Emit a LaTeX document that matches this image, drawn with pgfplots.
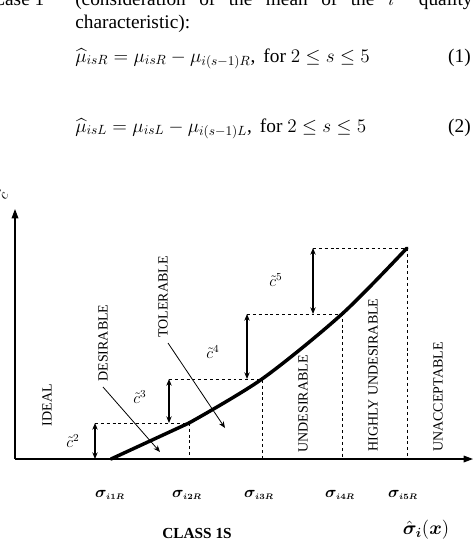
\documentclass[border=0pt]{standalone}
\usepackage{amsmath,bm}
\usepackage{fontspec}
\setmainfont{Liberation Serif}
\usepackage{pgfplots}
\pgfplotsset{compat=1.18}
\usetikzlibrary{arrows.meta}

\begin{document}
\begin{tikzpicture}
\begin{scope}
\clip (0,0) rectangle (354.75pt,-405.75pt);
\begin{axis}[at={(0,0)}, anchor=north west, scale only axis,
  width=354.75pt, height=405.75pt,
  xmin=0, xmax=473, ymin=0, ymax=541, y dir=reverse,
  hide axis, clip=false]
% ---- text above the chart
\node[anchor=base west, inner sep=0pt, font=\fontsize{14.5}{17}\selectfont] at (axis cs:-8,5) {Case 1};
\node[anchor=base west, inner sep=0pt, font=\fontsize{14.5}{17}\selectfont] at (axis cs:75,5)
  {\makebox[298pt][s]{(consideration\hfill of\hfill the\hfill mean\hfill of\hfill the\hfill $i^{\mathrm{th}}$\hfill quality}};
\node[anchor=base west, inner sep=0pt, font=\fontsize{14.5}{17}\selectfont] at (axis cs:75,28) {characteristic):};
\node[anchor=base west, inner sep=0pt, font=\fontsize{14.5}{17}\selectfont] at (axis cs:75,62)
  {$\widehat{\mu}_{isR}=\mu_{isR}-\mu_{i(s-1)R}$,\, for $2\le s\le 5$};
\node[anchor=base east, inner sep=0pt, font=\fontsize{14.5}{17}\selectfont] at (axis cs:471,62) {(1)};
\node[anchor=base west, inner sep=0pt, font=\fontsize{14.5}{17}\selectfont] at (axis cs:75,132)
  {$\widehat{\mu}_{isL}=\mu_{isL}-\mu_{i(s-1)L}$,\, for $2\le s\le 5$};
\node[anchor=base east, inner sep=0pt, font=\fontsize{14.5}{17}\selectfont] at (axis cs:471,132) {(2)};

% ---- axes with arrows
\draw[line width=0.9pt, -{Triangle[length=7pt,width=5pt]}] (axis cs:15,459) -- (axis cs:15,209);
\draw[line width=0.9pt, -{Triangle[length=7pt,width=5pt]}] (axis cs:15,459) -- (axis cs:473,459);
\node[rotate=60, font=\fontsize{11}{12}\selectfont] at (axis cs:3,195) {$\tilde{c}$};

% ---- dashed guides
\draw[line width=0.7pt, dash pattern=on 2.2pt off 2.2pt]
  (axis cs:95,423) -- (axis cs:189,423) -- (axis cs:189,459)
  (axis cs:169,379) -- (axis cs:262,379) -- (axis cs:262,459)
  (axis cs:247,314) -- (axis cs:342,314) -- (axis cs:342,459)
  (axis cs:313,248) -- (axis cs:407,248) -- (axis cs:407,459);

% ---- double arrows
\draw[line width=0.8pt, {Stealth[length=5pt,width=4pt]}-{Stealth[length=5pt,width=4pt]}] (axis cs:95,423) -- (axis cs:95,459);
\draw[line width=0.8pt, {Stealth[length=5pt,width=4pt]}-{Stealth[length=5pt,width=4pt]}] (axis cs:169,379) -- (axis cs:169,423);
\draw[line width=0.8pt, {Stealth[length=5pt,width=4pt]}-{Stealth[length=5pt,width=4pt]}] (axis cs:247,314) -- (axis cs:247,379);
\draw[line width=0.8pt, {Stealth[length=5pt,width=4pt]}-{Stealth[length=5pt,width=4pt]}] (axis cs:313,248) -- (axis cs:313,314);

% ---- the curve
\addplot[black, line width=2.6pt, line cap=round] coordinates {(111,459) (189,423)};
\addplot[black, line width=2.6pt, line cap=round, smooth] coordinates {(189,423) (262,379) (342,314) (407,248)};

% ---- c tilde labels
\node[font=\fontsize{12}{13}\selectfont] at (axis cs:73,441) {$\tilde{c}^{2}$};
\node[font=\fontsize{12}{13}\selectfont] at (axis cs:140,397) {$\tilde{c}^{3}$};
\node[font=\fontsize{12}{13}\selectfont] at (axis cs:213,352) {$\tilde{c}^{4}$};
\node[font=\fontsize{12}{13}\selectfont] at (axis cs:276,280) {$\tilde{c}^{5}$};

% ---- region labels
\node[rotate=90, font=\fontsize{10.5}{12}\selectfont] at (axis cs:47,405) {IDEAL};
\node[rotate=90, font=\fontsize{10.5}{12}\selectfont] at (axis cs:103,343) {DESIRABLE};
\node[rotate=90, font=\fontsize{10.5}{12}\selectfont] at (axis cs:163,297) {TOLERABLE};
\node[rotate=90, font=\fontsize{10.5}{12}\selectfont] at (axis cs:303,404) {UNDESIRABLE};
\node[rotate=90, font=\fontsize{10.5}{12}\selectfont] at (axis cs:373,375) {HIGHLY UNDESIRABLE};
\node[rotate=90, font=\fontsize{10.5}{12}\selectfont] at (axis cs:438,397) {UNACCEPTABLE};
\draw[line width=0.6pt, -{Stealth[length=5pt,width=4pt]}] (axis cs:103,387) -- (axis cs:160,452);
\draw[line width=0.6pt, -{Stealth[length=5pt,width=4pt]}] (axis cs:168,343) -- (axis cs:225,428);

% ---- bottom labels
\node[font=\fontsize{12.5}{14}\selectfont] at (axis cs:110,495) {$\bm{\sigma}_{\scriptscriptstyle\bm{i1R}}$};
\node[font=\fontsize{12.5}{14}\selectfont] at (axis cs:187,495) {$\bm{\sigma}_{\scriptscriptstyle\bm{i2R}}$};
\node[font=\fontsize{12.5}{14}\selectfont] at (axis cs:259,495) {$\bm{\sigma}_{\scriptscriptstyle\bm{i3R}}$};
\node[font=\fontsize{12.5}{14}\selectfont] at (axis cs:340,495) {$\bm{\sigma}_{\scriptscriptstyle\bm{i4R}}$};
\node[font=\fontsize{12.5}{14}\selectfont] at (axis cs:403,495) {$\bm{\sigma}_{\scriptscriptstyle\bm{i5R}}$};
\node[font=\bfseries\fontsize{11.5}{13}\selectfont] at (axis cs:197,533) {CLASS 1S};
\node[font=\fontsize{14}{15}\selectfont] at (axis cs:426,530) {$\hat{\bm{\sigma}}_{\bm{i}}(\bm{x})$};
\end{axis}
\end{scope}
\pgfresetboundingbox
\useasboundingbox (0,0) rectangle (354.75pt,-405.75pt);
\end{tikzpicture}
\end{document}
